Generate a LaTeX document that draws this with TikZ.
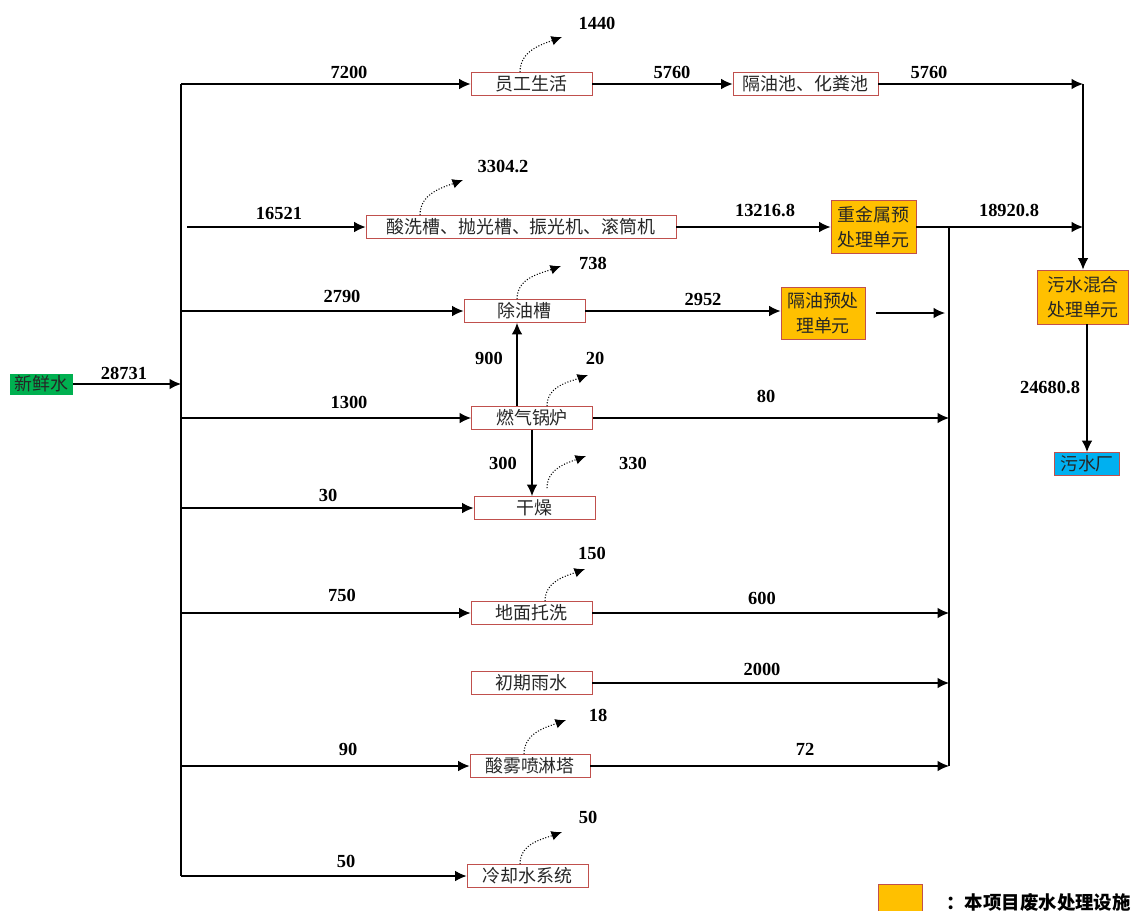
\documentclass[tikz,border=0pt]{standalone}
\usepackage{fontspec}
\setmainfont{Noto Sans CJK SC}
\newfontfamily\numfont{Liberation Serif}
\usetikzlibrary{arrows.meta,calc}

\definecolor{boxred}{RGB}{192,80,77}
\definecolor{unitorange}{RGB}{255,192,0}
\definecolor{freshgreen}{RGB}{0,176,80}
\definecolor{plantblue}{RGB}{0,176,240}

\tikzset{
  unit/.style={draw=boxred, line width=0.5pt, text=black!85, minimum height=0.46cm, minimum width=2.42cm, inner sep=0pt, font=\fontsize{10.2}{12}\selectfont},
  treat/.style={unit, fill=unitorange, minimum width=1.7cm, minimum height=1.06cm, align=center, font=\fontsize{10.2}{14}\selectfont},
  num/.style={font=\numfont\bfseries\fontsize{10.5}{12}\selectfont, inner sep=0pt},
  flow/.style={line width=0.7pt, -{Latex[length=6.5pt,width=6pt]}},
  pipe/.style={line width=0.7pt},
  loss/.style={line width=0.6pt, densely dotted, -{Latex[length=6pt,width=5.5pt]}, out=90, in=200},
}

\begin{document}
\begin{tikzpicture}[x=0.02cm, y=-0.02cm]
\useasboundingbox (0,0) rectangle (1141,910);

% units
\node[fill=freshgreen, minimum width=1.26cm, minimum height=0.42cm, inner sep=0pt, text=black!85, font=\fontsize{10.2}{12}\selectfont] (fresh) at (41.5,384) {新鲜水};
\node[unit] (staff) at (531.5,84) {员工生活};
\node[unit, minimum width=2.9cm] (oilsep) at (805.5,84) {隔油池、化粪池};
\node[unit, minimum width=6.2cm] (pickle) at (521,227) {酸洗槽、抛光槽、振光机、滚筒机};
\node[treat] (heavy) at (873.5,227) {重金属预\\处理单元};
\node[unit] (degrease) at (524.5,311) {除油槽};
\node[treat, minimum width=1.68cm, minimum height=1.04cm] (oilpre) at (823,313) {隔油预处\\理单元};
\node[unit] (boiler) at (532,418) {燃气锅炉};
\node[unit] (dry) at (534.5,508) {干燥};
\node[unit] (floor) at (531.5,613) {地面托洗};
\node[unit] (rain) at (531.5,683) {初期雨水};
\node[unit, minimum width=2.4cm] (mist) at (530,766) {酸雾喷淋塔};
\node[unit] (cool) at (527.5,876) {冷却水系统};
\node[treat, minimum width=1.82cm, minimum height=1.08cm] (mix) at (1083,297) {污水混合\\处理单元};
\node[unit, fill=plantblue, minimum width=1.3cm] (plant) at (1087,464) {污水厂};
\node[draw=boxred, fill=unitorange, minimum width=0.88cm, minimum height=0.56cm, inner sep=0pt] (key) at (900,898) {};
\node[anchor=west, inner sep=0pt, font=\bfseries\fontsize{10.5}{12}\selectfont] (keytext) at (946,902) {：本项目废水处理设施};

\coordinate (tin) at (181,384);
\coordinate (t1) at (181,84);
\coordinate (t2) at (187,227);
\coordinate (t3) at (181,311);
\coordinate (t4) at (181,418);
\coordinate (t5) at (181,508);
\coordinate (t6) at (181,613);
\coordinate (t8) at (181,766);
\coordinate (t9) at (181,876);
\coordinate (c1) at (1083,84);
\coordinate (c2) at (1083,227);
\coordinate (ctop) at (949,227);
\coordinate (cbot) at (949,766);
\coordinate (oilout) at (876,313);
\coordinate (oilin) at (945,313);
\coordinate (b900) at ($(boiler.north)+(-15,0)$);

% fresh water
\draw[pipe] (t1) -- (t9);
\draw[flow] (fresh) -- (tin);
\draw[flow] (t1) -- (staff);
\draw[flow] (t2) -- (pickle);
\draw[flow] (t3) -- (degrease);
\draw[flow] (t4) -- (boiler);
\draw[flow] (t5) -- (dry);
\draw[flow] (t6) -- (floor);
\draw[flow] (t8) -- (mist);
\draw[flow] (t9) -- (cool);

% waste water
\draw[flow] (staff) -- (oilsep);
\draw[flow] (oilsep) -- (c1);
\draw[flow] (c1) -- (mix);
\draw[flow] (pickle) -- (heavy);
\draw[flow] (heavy) -- (c2);
\draw[pipe] (ctop) -- (cbot);
\draw[flow] (degrease) -- (degrease -| oilpre.west);
\draw[flow] (oilout) -- (oilin);
\draw[flow] (b900) -- (b900 |- degrease.south);
\draw[flow] (boiler.south) -- (boiler.south |- dry.north);
\draw[flow] (boiler) -- (boiler -| ctop);
\draw[flow] (floor) -- (floor -| ctop);
\draw[flow] (rain) -- (rain -| ctop);
\draw[flow] (mist) -- (mist -| ctop);
\draw[flow] (mix.south -| plant) -- (plant);

% losses
\draw[loss] ($(staff.north)+(-11.5,0)$) to (562,37);
\draw[loss] ($(pickle.north)+(-101,0)$) to (463,180);
\draw[loss] ($(degrease.north)+(-7.5,0)$) to (561,266);
\draw[loss] ($(boiler.north)+(15,0)$) to (588,375);
\draw[loss] ($(dry.north)+(12.5,-8)$) to (586,456);
\draw[loss] ($(floor.north)+(13.5,0)$) to (585,569);
\draw[loss] ($(mist.north)+(-6,0)$) to (566,720);
\draw[loss] ($(cool.north)+(-7.5,0)$) to (562,832);

% quantities
\node[num] (q28731) at (124,373) {28731};
\node[num] (q7200) at (349,72) {7200};
\node[num] (q5760a) at (672,72) {5760};
\node[num] (q5760b) at (929,72) {5760};
\node[num] (q1440) at (597,23) {1440};
\node[num] (q16521) at (279,213) {16521};
\node[num] (q3304) at (503,166) {3304.2};
\node[num] (q13216) at (765,210) {13216.8};
\node[num] (q18920) at (1009,210) {18920.8};
\node[num] (q2790) at (342,296) {2790};
\node[num] (q738) at (593,263) {738};
\node[num] (q2952) at (703,299) {2952};
\node[num] (q900) at (489,358) {900};
\node[num] (q20) at (595,358) {20};
\node[num] (q1300) at (349,402) {1300};
\node[num] (q80) at (766,396) {80};
\node[num] (q24680) at (1050,387) {24680.8};
\node[num] (q300) at (503,463) {300};
\node[num] (q330) at (633,463) {330};
\node[num] (q30) at (328,495) {30};
\node[num] (q150) at (592,553) {150};
\node[num] (q750) at (342,595) {750};
\node[num] (q600) at (762,598) {600};
\node[num] (q2000) at (762,669) {2000};
\node[num] (q18) at (598,715) {18};
\node[num] (q90) at (348,749) {90};
\node[num] (q72) at (805,749) {72};
\node[num] (q50a) at (588,817) {50};
\node[num] (q50b) at (346,861) {50};
\end{tikzpicture}
\end{document}
